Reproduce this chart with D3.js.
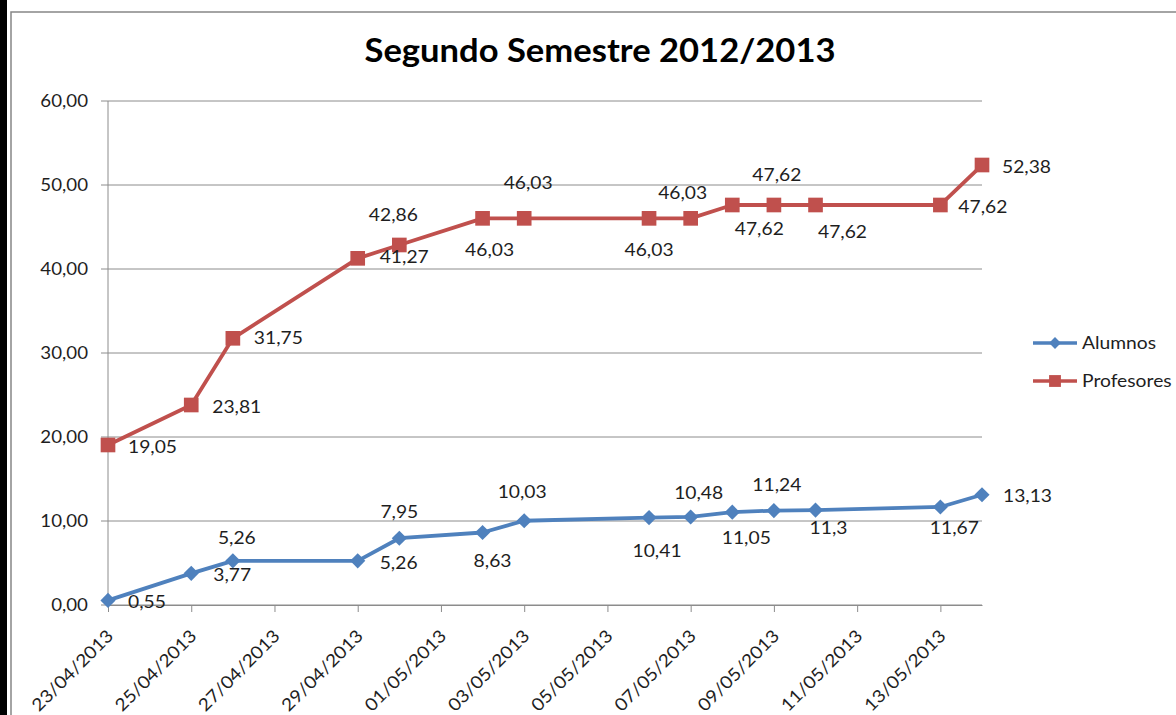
<!DOCTYPE html>
<html>
<head>
<meta charset="utf-8">
<script src="https://cdn.jsdelivr.net/npm/d3@7"></script>
<style>
  body { margin: 0; background: #fff; }
  svg { display: block; font-family: Lato, "Open Sans", sans-serif; }
</style>
</head>
<body>
<svg id="chart" width="1176" height="715"></svg>
<script>
//* ------------------------------ DATA ---------------------------------------- //
const dates = ["23/04/2013", "25/04/2013", "26/04/2013", "29/04/2013", "30/04/2013",
  "02/05/2013", "03/05/2013", "06/05/2013", "07/05/2013", "08/05/2013",
  "09/05/2013", "10/05/2013", "13/05/2013", "14/05/2013"];
const alumnos = [0.55, 3.77, 5.26, 5.26, 7.95, 8.63, 10.03, 10.41, 10.48, 11.05, 11.24, 11.3, 11.67, 13.13];
const profesores = [19.05, 23.81, 31.75, 41.27, 42.86, 46.03, 46.03, 46.03, 46.03, 47.62, 47.62, 47.62, 47.62, 52.38];
const yTicks = [0, 10, 20, 30, 40, 50, 60];
const seriesNames = ["Alumnos", "Profesores"];

// where Excel put each data label: [dx, dy, anchor] from the point ('s' = start, 'm' = middle)
const alumnosLabelPos = [[20, 2, "s"], [22, 2, "s"], [4, -23, "m"], [22, 2, "s"], [0, -26, "m"],
  [10, 28, "m"], [-2, -29, "m"], [8, 33, "m"], [8, -24, "m"], [14, 26, "m"], [3, -26, "m"],
  [13, 18, "m"], [14, 21, "m"], [21, 1, "s"]];
const profLabelPos = [[20, 2, "s"], [21, 2, "s"], [21, 0, "s"], [22, -1, "s"], [-6, -30, "m"],
  [7, 32, "m"], [4, -35, "m"], [0, 32, "m"], [-8, -25, "m"], [27, 24, "m"], [3, -30, "m"],
  [27, 27, "m"], [18, 2, "s"], [20, 2, "s"]];
//* ------------------------------ END DATA ------------------------------------ //

const parse = d3.timeParse("%d/%m/%Y");
const fmtDate = d3.timeFormat("%d/%m/%Y");
const fmtNum = v => String(v).replace(".", ",");

const svg = d3.select("#chart");
const plotLeft = 108, plotRight = 982, plotTop = 101, plotBottom = 605;
const textColor = "#1e1e1e";

const x = d3.scaleTime()
  .domain([parse(dates[0]), parse(dates[dates.length - 1])])
  .range([plotLeft, plotRight]);
const y = d3.scaleLinear().domain([0, 60]).range([plotBottom, plotTop]);

// frame
svg.append("rect").attr("x", 0).attr("y", 0).attr("width", 7).attr("height", 715).attr("fill", "#000");
svg.append("rect").attr("x", 11).attr("y", 12).attr("width", 1200).attr("height", 800)
  .attr("fill", "none").attr("stroke", "#868686").attr("stroke-width", 1.5);

// title
svg.append("text").attr("x", 600).attr("y", 62).attr("text-anchor", "middle")
  .attr("font-size", 32).attr("font-weight", "bold").attr("fill", "#000")
  .attr("class", "wide")
  .text("Segundo Semestre 2012/2013");

// grid
svg.append("g").selectAll("line").data(yTicks).join("line")
  .attr("x1", plotLeft - 7).attr("x2", plotRight)
  .attr("y1", d => y(d)).attr("y2", d => y(d))
  .attr("stroke", "#8c8c8c").attr("stroke-width", 1);

svg.append("line").attr("x1", plotLeft).attr("x2", plotLeft).attr("y1", plotTop).attr("y2", plotBottom)
  .attr("stroke", "#8c8c8c");

svg.append("g").selectAll("text").data(yTicks).join("text")
  .attr("x", plotLeft - 20).attr("y", d => y(d) + 6).attr("text-anchor", "end")
  .attr("font-size", 17).attr("fill", textColor)
  .text(d => d3.format(".2f")(d).replace(".", ","));

// x axis
const xTicks = d3.timeDay.range(parse(dates[0]), d3.timeDay.offset(parse(dates[dates.length - 1]), 1), 2);
const xAxis = svg.append("g").attr("transform", `translate(0,${plotBottom})`)
  .call(d3.axisBottom(x).tickValues(xTicks).tickFormat(fmtDate).tickSizeInner(7).tickSizeOuter(0));
xAxis.select(".domain").attr("stroke", "#8c8c8c");
xAxis.selectAll(".tick line").attr("stroke", "#8c8c8c");
xAxis.selectAll(".tick text")
  .attr("font-family", "Lato, 'Open Sans', sans-serif").attr("font-size", 17.5).attr("fill", textColor)
  .attr("text-anchor", "end").attr("y", 0).attr("dy", 0).attr("dx", 0)
  .attr("transform", "translate(6,32) rotate(-45)");

// series
const colors = ["#4F81BD", "#C0504D"];
const series = [alumnos, profesores];
const labelPos = [alumnosLabelPos, profLabelPos];
const line = d3.line().x(d => x(parse(d.date))).y(d => y(d.v));

series.forEach((vals, si) => {
  const pts = vals.map((v, i) => ({ date: dates[i], v: v, pos: labelPos[si][i] }));
  svg.append("path").datum(pts).attr("d", line)
    .attr("fill", "none").attr("stroke", colors[si]).attr("stroke-width", 3.8)
    .attr("stroke-linejoin", "round");
  const size = si === 0 ? 115 : 215;
  const rot = si === 0 ? 45 : 0;
  svg.append("g").selectAll("path").data(pts).join("path")
    .attr("d", d3.symbol(d3.symbolSquare, size))
    .attr("transform", d => `translate(${x(parse(d.date))},${y(d.v)}) rotate(${rot})`)
    .attr("fill", colors[si]);
  svg.append("g").selectAll("text").data(pts).join("text")
    .attr("x", d => x(parse(d.date)) + d.pos[0])
    .attr("y", d => y(d.v) + d.pos[1] + 6)
    .attr("text-anchor", d => d.pos[2] === "s" ? "start" : "middle")
    .attr("font-size", 17.5).attr("fill", textColor)
    .text(d => fmtNum(d.v));
});

// legend
seriesNames.forEach((name, i) => {
  const ly = 343 + i * 38;
  svg.append("line").attr("x1", 1033).attr("x2", 1077).attr("y1", ly).attr("y2", ly)
    .attr("stroke", colors[i]).attr("stroke-width", 3.5);
  svg.append("path").attr("d", d3.symbol(d3.symbolSquare, i === 0 ? 70 : 140))
    .attr("transform", `translate(1055,${ly}) rotate(${i === 0 ? 45 : 0})`).attr("fill", colors[i]);
  svg.append("text").attr("x", 1082).attr("y", ly + 6).attr("font-size", 17.5).attr("fill", textColor).text(name);
});

// the reference text is a little wider than Lato, stretch it
svg.selectAll("text").each(function () {
  const k = this.classList.contains("wide") ? 1.08 : 1.1;
  const w = this.getComputedTextLength();
  d3.select(this).attr("textLength", w * k).attr("lengthAdjust", "spacingAndGlyphs");
});
</script>
</body>
</html>
